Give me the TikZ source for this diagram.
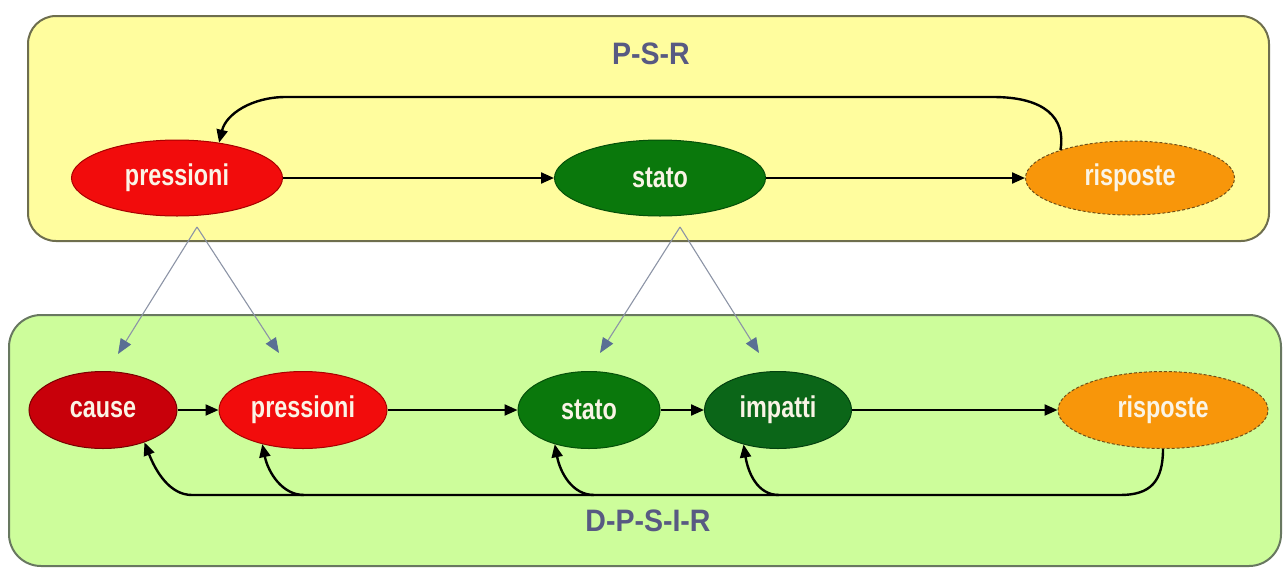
\documentclass[tikz,border=0pt]{standalone}
\usepackage{fontspec}
\setmainfont{Liberation Sans}
\newfontfamily\nodefont{Liberation Sans}[FakeStretch=0.78]
\newfontfamily\titlefont{Liberation Sans}[FakeStretch=0.92]
\usetikzlibrary{shapes.geometric,arrows.meta,calc}

\definecolor{psrfill}{HTML}{FFFD9E}
\definecolor{psrline}{HTML}{6E6E4E}
\definecolor{dpsirfill}{HTML}{CDFD9B}
\definecolor{dpsirline}{HTML}{687860}
\definecolor{pressred}{HTML}{F20C0C}
\definecolor{pressedge}{HTML}{A80000}
\definecolor{causered}{HTML}{C8000A}
\definecolor{causeedge}{HTML}{780000}
\definecolor{statogreen}{HTML}{0A780C}
\definecolor{statoedge}{HTML}{05500A}
\definecolor{impgreen}{HTML}{0B6618}
\definecolor{impedge}{HTML}{044010}
\definecolor{risporange}{HTML}{F8960A}
\definecolor{rispedge}{HTML}{705018}
\definecolor{labeltext}{HTML}{FAF4E6}
\definecolor{titleblue}{HTML}{585A82}
\definecolor{mapline}{HTML}{8C94A6}
\definecolor{maptip}{HTML}{5A7094}

\tikzset{
  panel/.style={line width=2pt, rounded corners=28pt},
  blob/.style={ellipse, inner sep=0pt, line width=1pt,
    font=\nodefont\bfseries\fontsize{30}{34}\selectfont, text=labeltext},
  title/.style={font=\titlefont\bfseries\fontsize{31}{36}\selectfont, text=titleblue},
  flow/.style={line width=2.2pt, -{Triangle[length=13pt,width=11pt]}},
  loopback/.style={line width=2.4pt, -{Triangle[length=13pt,width=11pt]}},
  maplink/.style={line width=1.1pt, draw=mapline,
    -{Triangle[length=15pt,width=12pt,fill=maptip,color=maptip]}}
}

\begin{document}
\begin{tikzpicture}[x=1pt,y=-1pt]
\useasboundingbox (0,0) rectangle (1284,568);

% framework panels
\draw[panel, fill=psrfill, draw=psrline] (28,16) rectangle (1269,241);
\draw[panel, fill=dpsirfill, draw=dpsirline, rounded corners=32pt] (9,315) rectangle (1281,566);

\node[title] (tpsr) at (651,54) {P-S-R};
\node[title] (tdpsir) at (648,521) {D-P-S-I-R};

% P-S-R chain
\node[blob, fill=pressred, draw=pressedge, minimum width=211pt, minimum height=76pt] (p1) at (177,178) {pressioni};
\node[blob, fill=statogreen, draw=statoedge, minimum width=211pt, minimum height=76pt] (s1) at (660,178) {stato};
\node[blob, fill=risporange, draw=rispedge, densely dashed, minimum width=209pt, minimum height=74pt] (r1) at (1130,178) {risposte};

\draw[flow] (p1) -- (s1);
\draw[flow] (s1) -- (r1);
\draw[loopback] (r1.158) .. controls (1066,118) and (1045,97) .. (993,97)
  -- (286,97) .. controls (252,97) and (226,114) .. (p1.40);

% D-P-S-I-R chain
\node[blob, fill=causered, draw=causeedge, minimum width=148pt, minimum height=77pt] (c2) at (103,410) {cause};
\node[blob, fill=pressred, draw=pressedge, minimum width=168pt, minimum height=77pt] (p2) at (303,410) {pressioni};
\node[blob, fill=statogreen, draw=statoedge, minimum width=142pt, minimum height=77pt] (s2) at (589,410) {stato};
\node[blob, fill=impgreen, draw=impedge, minimum width=147pt, minimum height=77pt] (i2) at (778,410) {impatti};
\node[blob, fill=risporange, draw=rispedge, densely dashed, minimum width=210pt, minimum height=77pt] (r2) at (1163,410) {risposte};

\draw[flow] (c2) -- (p2);
\draw[flow] (p2) -- (s2);
\draw[flow] (s2) -- (i2);
\draw[flow] (i2) -- (r2);

% responses feeding back to every earlier stage
\coordinate (jp) at (304,495);
\coordinate (js) at (594,495);
\coordinate (ji) at (779,495);
\draw[loopback] (r2.south) .. controls (1163,482) and (1150,495) .. (1120,495)
  -- (192,495) .. controls (170,495) and (156,472) .. (c2.-38);
\draw[loopback] (jp) .. controls (282,495) and (268,472) .. (p2.-140);
\draw[loopback] (js) .. controls (572,495) and (560,472) .. (s2.-135);
\draw[loopback] (ji) .. controls (757,495) and (748,472) .. (i2.-135);

% correspondence between the two frameworks
\coordinate (mp) at (197,227);
\coordinate (ms) at (680,227);
\coordinate (tc) at ($(c2.north)+(15,-17)$);
\coordinate (tp) at ($(p2.north)+(-24,-18)$);
\coordinate (ts) at ($(s2.north)+(11,-18)$);
\coordinate (ti) at ($(i2.north)+(-19,-18)$);
\draw[maplink] (mp) -- (tc);
\draw[maplink] (mp) -- (tp);
\draw[maplink] (ms) -- (ts);
\draw[maplink] (ms) -- (ti);
\end{tikzpicture}
\end{document}
